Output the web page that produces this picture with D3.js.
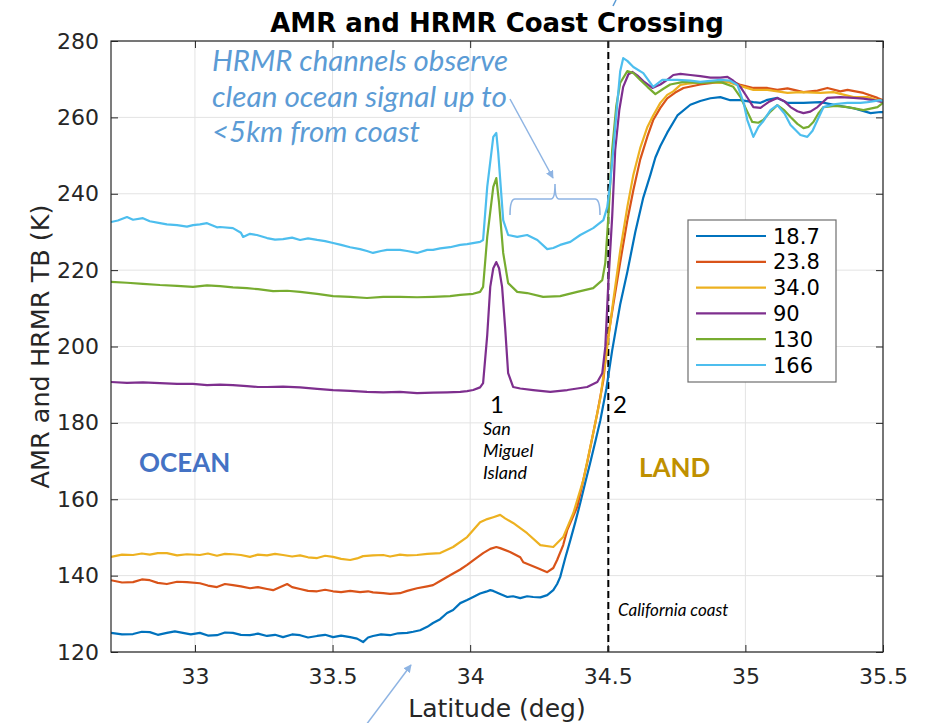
<!DOCTYPE html>
<html>
<head>
<meta charset="utf-8">
<script src="https://cdn.jsdelivr.net/npm/d3@7"></script>
<style>
  html, body { margin: 0; padding: 0; background: #ffffff; }
  svg { display: block; }
</style>
</head>
<body>
<svg id="chart" width="930" height="723"></svg>
<script>
// ---------------- DATA ----------------
const channels = ["18.7", "23.8", "34.0", "90", "130", "166"];
const channelColors = ["#0072BD", "#D95319", "#EDB120", "#7E2F8E", "#77AC30", "#4DBEEE"];
const xTicks = [33, 33.5, 34, 34.5, 35, 35.5];
const yTicks = [120, 140, 160, 180, 200, 220, 240, 260, 280];
const coastLat = 34.502;

const lat187 = [32.695,32.735,32.775,32.807,32.836,32.865,32.898,32.927,32.956,32.985,33.018,33.047,33.080,33.109,33.138,33.167,33.200,33.229,33.262,33.291,33.320,33.353,33.382,33.411,33.444,33.473,33.502,33.531,33.564,33.589,33.611,33.629,33.647,33.676,33.709,33.738,33.771,33.793,33.818,33.844,33.865,33.891,33.916,33.938,33.964,33.989,34.011,34.036,34.058,34.073,34.084,34.109,34.135,34.156,34.182,34.207,34.229,34.255,34.280,34.302,34.316,34.327,34.345,34.364,34.382,34.400,34.418,34.436,34.455,34.473,34.495,34.516,34.545,34.571,34.600,34.629,34.655,34.673,34.691,34.716,34.753,34.800,34.836,34.873,34.909,34.945,34.982,35.029,35.055,35.080,35.116,35.153,35.211,35.273,35.327,35.393,35.455,35.491,35.500];
const tb187  = [125.0,124.6,124.7,125.3,125.2,124.5,125.0,125.4,125.0,124.6,125.0,124.3,124.4,125.1,125.0,124.5,124.4,124.8,124.2,124.5,123.9,124.6,124.4,123.8,124.2,124.5,123.9,124.3,123.9,123.5,122.6,123.8,124.2,124.6,124.4,124.9,125.0,125.3,125.7,126.6,127.6,128.6,130.2,131.0,132.8,133.6,134.4,135.3,135.8,136.2,136.0,135.2,134.4,134.6,134.1,134.6,134.4,134.3,134.9,136.2,137.8,139.6,144.5,149.3,154.0,159.0,164.3,169.5,175.2,180.7,189.0,199.0,211.0,219.5,230.0,239.0,245.0,249.5,252.5,256.0,260.5,263.3,264.3,265.0,265.3,264.5,264.5,264.0,263.8,264.6,265.1,263.8,263.8,264.0,263.2,262.4,261.1,261.4,261.4];

const lat238 = [32.695,32.735,32.775,32.807,32.836,32.865,32.898,32.935,32.971,33.018,33.047,33.080,33.109,33.138,33.167,33.200,33.229,33.262,33.284,33.335,33.353,33.382,33.411,33.444,33.473,33.502,33.531,33.564,33.600,33.629,33.647,33.684,33.709,33.745,33.771,33.807,33.844,33.865,33.891,33.927,33.964,33.989,34.011,34.047,34.073,34.095,34.109,34.145,34.182,34.193,34.244,34.280,34.302,34.316,34.338,34.353,34.389,34.425,34.462,34.484,34.498,34.520,34.545,34.571,34.593,34.618,34.644,34.665,34.691,34.716,34.745,34.775,34.836,34.909,34.956,34.982,35.029,35.080,35.116,35.153,35.211,35.262,35.298,35.345,35.371,35.429,35.480,35.500];
const tb238  = [138.8,138.2,138.3,139.0,138.8,138.1,137.8,138.4,138.3,138.0,137.4,137.0,137.8,137.5,137.2,136.7,137.0,136.5,136.2,137.8,137.0,136.5,136.0,135.9,136.3,135.9,135.7,136.0,135.7,135.9,135.6,135.4,135.2,135.4,136.0,136.7,137.2,137.5,138.6,140.1,141.6,142.8,144.0,145.9,147.0,147.5,147.2,146.2,144.8,143.5,142.0,140.9,142.0,144.1,148.0,152.0,158.0,169.5,182.6,191.2,201.0,211.0,222.0,233.0,241.0,249.0,255.0,259.3,262.5,265.0,266.5,267.7,268.6,269.3,269.3,268.5,267.7,267.7,267.2,267.6,266.6,267.0,267.7,266.8,267.2,266.4,265.1,264.5];

const lat340 = [32.695,32.735,32.775,32.807,32.836,32.865,32.898,32.935,32.971,33.018,33.047,33.080,33.109,33.138,33.167,33.200,33.229,33.262,33.291,33.320,33.353,33.382,33.411,33.444,33.473,33.502,33.531,33.564,33.589,33.611,33.647,33.684,33.709,33.745,33.771,33.807,33.844,33.891,33.938,33.989,34.036,34.062,34.084,34.109,34.127,34.156,34.207,34.255,34.302,34.338,34.375,34.411,34.447,34.473,34.491,34.520,34.545,34.571,34.593,34.618,34.644,34.665,34.691,34.716,34.738,34.764,34.789,34.862,34.909,34.935,34.993,35.029,35.080,35.153,35.200,35.273,35.320,35.393,35.444,35.480,35.500];
const tb340  = [144.9,145.5,145.4,145.8,145.5,145.9,145.9,145.3,145.6,145.4,145.8,145.2,145.7,145.6,145.4,144.9,145.5,145.3,145.7,145.4,145.0,145.3,144.8,144.6,145.2,144.9,144.4,144.1,144.5,145.1,145.3,145.4,145.0,145.5,145.3,145.4,145.7,145.9,147.5,150.1,154.0,154.8,155.3,155.9,155.0,153.8,151.1,148.0,147.5,150.1,156.4,165.0,177.3,186.5,196.0,212.0,225.0,236.5,245.0,252.0,257.5,260.5,263.8,265.9,266.8,268.5,268.8,269.3,269.0,269.3,268.0,267.2,267.2,266.4,266.6,266.4,266.6,265.3,265.3,264.5,264.0];

const lat90 = [32.695,32.753,32.811,32.873,32.935,32.993,33.044,33.091,33.138,33.189,33.229,33.262,33.320,33.382,33.444,33.502,33.564,33.625,33.684,33.745,33.807,33.865,33.916,33.964,33.989,34.011,34.036,34.047,34.062,34.073,34.084,34.095,34.105,34.116,34.127,34.138,34.156,34.182,34.229,34.291,34.353,34.425,34.462,34.480,34.491,34.502,34.516,34.527,34.542,34.556,34.575,34.589,34.607,34.629,34.662,34.691,34.716,34.738,34.764,34.800,34.836,34.873,34.909,34.935,34.956,34.982,35.007,35.029,35.055,35.084,35.116,35.142,35.164,35.189,35.211,35.236,35.262,35.298,35.345,35.393,35.429,35.465,35.500];
const tb90  = [190.7,190.5,190.6,190.4,190.2,190.2,189.9,190.0,189.9,189.6,189.4,189.4,189.5,189.3,188.9,188.6,188.4,188.1,188.0,188.1,187.8,187.9,188.0,188.1,188.3,188.6,189.3,190.4,203.0,215.6,220.5,222.1,220.5,215.6,205.0,193.0,189.4,189.0,188.6,188.1,188.6,189.4,190.7,193.0,199.9,216.6,234.0,251.5,262.0,268.0,271.3,271.9,271.0,269.5,267.7,268.6,269.8,271.1,271.4,271.1,270.8,270.4,270.4,270.6,269.6,268.0,265.2,262.7,262.5,264.0,265.1,264.2,262.7,261.6,261.1,261.5,262.7,265.1,265.3,265.1,264.9,264.5,264.0];

const lat130 = [32.695,32.753,32.811,32.873,32.935,32.993,33.044,33.091,33.138,33.189,33.229,33.284,33.335,33.382,33.444,33.502,33.564,33.625,33.684,33.745,33.807,33.865,33.927,33.964,34.011,34.036,34.047,34.062,34.084,34.095,34.105,34.120,34.138,34.171,34.207,34.265,34.327,34.389,34.447,34.480,34.491,34.502,34.516,34.531,34.545,34.571,34.593,34.618,34.644,34.673,34.702,34.727,34.775,34.836,34.909,34.956,34.982,35.007,35.025,35.047,35.065,35.091,35.116,35.142,35.164,35.189,35.211,35.229,35.247,35.265,35.284,35.327,35.371,35.429,35.480,35.500];
const tb130  = [216.9,216.7,216.4,216.1,215.9,215.6,216.0,215.8,215.5,215.3,215.0,214.5,214.6,214.3,213.8,213.2,213.0,212.7,213.0,213.0,212.9,213.0,213.2,213.5,213.8,214.3,215.6,228.7,241.8,244.1,237.6,224.5,216.6,214.3,214.0,213.0,213.2,214.3,215.3,217.4,221.9,233.9,251.5,263.0,269.0,272.1,271.6,269.8,268.0,266.1,267.5,268.6,269.3,269.0,269.3,268.0,265.3,261.5,258.8,258.6,259.3,261.5,263.2,261.8,260.1,258.3,257.2,257.5,258.8,261.0,262.7,263.0,262.7,261.9,262.7,263.8];

const lat166 = [32.695,32.720,32.753,32.775,32.811,32.836,32.873,32.898,32.935,32.971,32.993,33.018,33.044,33.080,33.091,33.138,33.167,33.175,33.200,33.225,33.262,33.291,33.320,33.353,33.382,33.411,33.444,33.473,33.502,33.531,33.564,33.600,33.625,33.647,33.676,33.698,33.745,33.771,33.807,33.844,33.865,33.891,33.927,33.964,33.989,34.036,34.047,34.062,34.084,34.095,34.102,34.120,34.138,34.171,34.207,34.244,34.280,34.302,34.327,34.364,34.400,34.447,34.484,34.498,34.509,34.520,34.535,34.545,34.556,34.571,34.593,34.629,34.665,34.698,34.753,34.800,34.836,34.909,34.945,34.971,34.993,35.007,35.029,35.047,35.065,35.091,35.116,35.142,35.164,35.200,35.225,35.244,35.262,35.284,35.327,35.371,35.418,35.444,35.491,35.500];
const tb166  = [232.6,233.0,233.9,233.2,233.6,232.8,232.3,232.0,231.8,231.4,231.8,232.0,232.3,231.2,231.3,231.0,229.8,228.7,229.5,229.2,228.4,228.0,228.1,228.5,227.9,228.3,227.9,227.6,227.1,226.6,226.0,225.5,225.0,224.5,225.0,225.3,225.3,225.0,224.5,225.3,225.3,225.7,226.0,226.6,226.8,227.4,227.9,241.8,254.9,255.9,250.7,233.1,229.2,228.7,229.2,227.9,225.5,225.8,226.6,227.4,229.2,231.0,233.1,236.5,242.8,251.5,264.0,272.0,275.5,274.8,273.2,271.6,268.0,269.8,269.8,269.6,269.3,269.8,269.6,268.5,264.0,259.3,254.9,257.5,259.0,261.9,263.2,261.0,258.0,255.4,254.9,256.5,259.3,262.7,263.5,263.8,263.8,264.0,264.5,264.3];

const seriesLat = [lat187, lat238, lat340, lat90, lat130, lat166];
const seriesTb  = [tb187, tb238, tb340, tb90, tb130, tb166];

// ---------------- CHART ----------------
const svg = d3.select("#chart");
const W = 930, H = 723;
const m = { left: 111, right: 883, top: 41, bottom: 652 };

svg.append("rect").attr("width", W).attr("height", H).attr("fill", "#ffffff");

const x = d3.scaleLinear().domain([32.695, 35.5]).range([m.left, m.right]);
const y = d3.scaleLinear().domain([120, 280]).range([m.bottom, m.top]);

const axisColor = "#262626";
const tickFont = "'DejaVu Sans', sans-serif";

// grid
const grid = svg.append("g");
grid.selectAll("line.gx").data(xTicks).join("line")
  .attr("x1", d => x(d)).attr("x2", d => x(d))
  .attr("y1", m.top).attr("y2", m.bottom)
  .attr("stroke", "#e3e3e3").attr("stroke-width", 1);
grid.selectAll("line.gy").data(yTicks).join("line")
  .attr("x1", m.left).attr("x2", m.right)
  .attr("y1", d => y(d)).attr("y2", d => y(d))
  .attr("stroke", "#e3e3e3").attr("stroke-width", 1);

// clip
svg.append("clipPath").attr("id", "plotclip").append("rect")
  .attr("x", m.left).attr("y", m.top)
  .attr("width", m.right - m.left).attr("height", m.bottom - m.top);

// coast dashed line
svg.append("line")
  .attr("x1", x(coastLat)).attr("x2", x(coastLat))
  .attr("y1", m.top).attr("y2", m.bottom)
  .attr("stroke", "#000").attr("stroke-width", 2)
  .attr("stroke-dasharray", "7,4");

// series lines
const line = d3.line().x(d => x(d[0])).y(d => y(d[1]));
const lines = svg.append("g").attr("clip-path", "url(#plotclip)");
channels.forEach((c, i) => {
  const pts = seriesLat[i].map((la, k) => [la, seriesTb[i][k]]);
  lines.append("path")
    .datum(pts)
    .attr("d", line)
    .attr("fill", "none")
    .attr("stroke", channelColors[i])
    .attr("stroke-width", 2.2)
    .attr("stroke-linejoin", "round");
});

// axes
function styleAxis(g, showText) {
  g.select(".domain").remove();
  g.selectAll(".tick line").attr("stroke", axisColor).attr("stroke-width", 1);
  g.selectAll(".tick text")
    .attr("fill", axisColor)
    .style("font-family", tickFont)
    .style("font-size", "22px");
  if (!showText) g.selectAll(".tick text").remove();
}
svg.append("g").attr("transform", `translate(0,${m.bottom})`)
  .call(d3.axisBottom(x).tickValues(xTicks).tickFormat(d => String(d)).tickSize(-7).tickPadding(16))
  .call(g => styleAxis(g, true));
svg.append("g").attr("transform", `translate(0,${m.top})`)
  .call(d3.axisTop(x).tickValues(xTicks).tickSize(-7))
  .call(g => styleAxis(g, false));
svg.append("g").attr("transform", `translate(${m.left},0)`)
  .call(d3.axisLeft(y).tickValues(yTicks).tickFormat(d => String(d)).tickSize(-7).tickPadding(12))
  .call(g => styleAxis(g, true));
svg.append("g").attr("transform", `translate(${m.right},0)`)
  .call(d3.axisRight(y).tickValues(yTicks).tickSize(-7))
  .call(g => styleAxis(g, false));

// frame
svg.append("rect")
  .attr("x", m.left).attr("y", m.top)
  .attr("width", m.right - m.left).attr("height", m.bottom - m.top)
  .attr("fill", "none").attr("stroke", axisColor).attr("stroke-width", 1.2);

// title & labels
svg.append("text").attr("x", (m.left + m.right) / 2).attr("y", 32)
  .attr("text-anchor", "middle")
  .style("font-family", tickFont).style("font-size", "26px").style("font-weight", "bold")
  .attr("fill", "#000").text("AMR and HRMR Coast Crossing");
svg.append("text").attr("x", (m.left + m.right) / 2).attr("y", 717)
  .attr("text-anchor", "middle")
  .style("font-family", tickFont).style("font-size", "25px")
  .attr("fill", axisColor).text("Latitude (deg)");
svg.append("text")
  .attr("transform", `translate(49,${(m.top + m.bottom) / 2}) rotate(-90)`)
  .attr("text-anchor", "middle")
  .style("font-family", tickFont).style("font-size", "25.5px")
  .attr("fill", axisColor).text("AMR and HRMR TB (K)");

// legend
const lg = svg.append("g");
lg.append("rect").attr("x", 688).attr("y", 220).attr("width", 148).attr("height", 162)
  .attr("fill", "#fff").attr("stroke", "#6e6e6e").attr("stroke-width", 1.2);
channels.forEach((c, i) => {
  const yy = 236 + i * 25.8;
  lg.append("line").attr("x1", 696).attr("x2", 766).attr("y1", yy).attr("y2", yy)
    .attr("stroke", channelColors[i]).attr("stroke-width", 2.2);
  lg.append("text").attr("x", 773).attr("y", yy).attr("dy", "0.36em")
    .style("font-family", tickFont).style("font-size", "21px")
    .attr("fill", "#000").text(c);
});

// annotations
const annoFont = "Lato, 'Open Sans', sans-serif";
const noteColor = "#5B9BD5";
const noteLines = ["HRMR channels observe", "clean ocean signal up to", "<5km from coast"];
const noteWidths = [296, 295, 208];
noteLines.forEach((t, i) => {
  svg.append("text").attr("x", 212).attr("y", 71 + i * 35.5)
    .attr("textLength", noteWidths[i]).attr("lengthAdjust", "spacingAndGlyphs")
    .style("font-family", annoFont).style("font-style", "italic").style("font-size", "28.5px")
    .attr("fill", noteColor).text(t);
});

const arrowColor = "#8EB4E3";
const defs = svg.append("defs");
defs.append("marker").attr("id", "ah").attr("viewBox", "0 0 10 10")
  .attr("refX", 9).attr("refY", 5).attr("markerWidth", 8).attr("markerHeight", 8)
  .attr("markerUnits", "userSpaceOnUse")
  .attr("orient", "auto")
  .append("path").attr("d", "M0,0 L10,5 L0,10 Z").attr("fill", arrowColor);

svg.append("line").attr("x1", 510).attr("y1", 99).attr("x2", 553).attr("y2", 178)
  .attr("stroke", arrowColor).attr("stroke-width", 1.5).attr("marker-end", "url(#ah)");
svg.append("path")
  .attr("d", "M510,215 Q510,199 515,199 L551,199 Q555,199 555,184 Q555,199 559,199 L595,199 Q600,199 600,215")
  .attr("fill", "none").attr("stroke", arrowColor).attr("stroke-width", 1.6);
svg.append("line").attr("x1", 366).attr("y1", 725).attr("x2", 411).attr("y2", 665)
  .attr("stroke", arrowColor).attr("stroke-width", 1.5).attr("marker-end", "url(#ah)");
svg.append("line").attr("x1", 613).attr("y1", 6).attr("x2", 616).attr("y2", 0)
  .attr("stroke", noteColor).attr("stroke-width", 1.5);

// region labels
svg.append("text").attr("x", 139).attr("y", 472)
  .style("font-family", annoFont).style("font-weight", "bold").style("font-size", "26px")
  .attr("fill", "#4472C4").text("OCEAN");
svg.append("text").attr("x", 639).attr("y", 477)
  .style("font-family", annoFont).style("font-weight", "bold").style("font-size", "26px")
  .attr("fill", "#BF9000").text("LAND");

svg.append("text").attr("x", 490).attr("y", 413)
  .style("font-family", annoFont).style("font-size", "24px").attr("fill", "#000").text("1");
svg.append("text").attr("x", 613).attr("y", 413)
  .style("font-family", annoFont).style("font-size", "24px").attr("fill", "#000").text("2");
["San", "Miguel", "Island"].forEach((t, i) => {
  svg.append("text").attr("x", 483).attr("y", 435 + i * 22)
    .style("font-family", annoFont).style("font-style", "italic").style("font-size", "18px")
    .attr("fill", "#000").text(t);
});
svg.append("text").attr("x", 618).attr("y", 616)
  .style("font-family", annoFont).style("font-style", "italic").style("font-size", "17px")
  .attr("fill", "#000").text("California coast");
</script>
</body>
</html>
